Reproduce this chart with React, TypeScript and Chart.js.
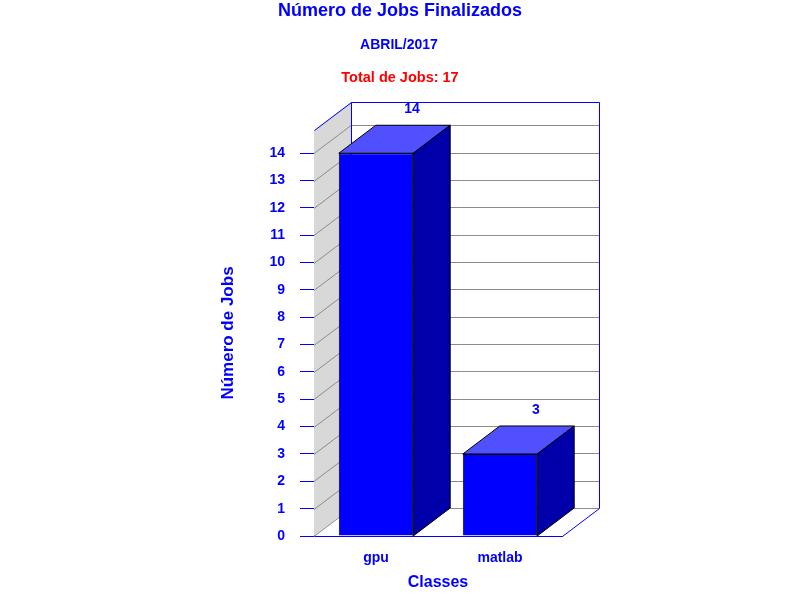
import { Chart, registerables } from 'chart.js';
import { useEffect, useRef } from 'react';

Chart.register(...registerables);

const classes = ['gpu', 'matlab'];
const jobs = [14, 3];
const titulo = 'Número de Jobs Finalizados';
const periodo = 'ABRIL/2017';
const totalTxt = 'Total de Jobs: 17';

const FONT = '"Liberation Sans", Arial, sans-serif';
const AZUL = '#0000ff';
const DX = 37;
const DY = -28;

// paredes, piso y grid 3D
const fundo3d = {
  id: 'fundo3d',
  beforeDatasetsDraw(chart: any) {
    const { ctx, chartArea: a, scales } = chart;
    const y = scales.y;
    ctx.save();
    ctx.lineWidth = 1;
    // parede de fundo
    ctx.fillStyle = '#ffffff';
    ctx.fillRect(a.left + DX, a.top + DY, a.right - a.left, a.bottom - a.top);
    // parede esquerda
    ctx.beginPath();
    ctx.moveTo(a.left, a.bottom);
    ctx.lineTo(a.left, a.top);
    ctx.lineTo(a.left + DX, a.top + DY);
    ctx.lineTo(a.left + DX, a.bottom + DY);
    ctx.closePath();
    ctx.fillStyle = '#d8d8d8';
    ctx.fill();
    // grid
    ctx.strokeStyle = '#8c8c8c';
    y.ticks.forEach((t: any) => {
      const py = Math.round(y.getPixelForValue(t.value)) + 0.5;
      ctx.beginPath();
      ctx.moveTo(a.left, py);
      ctx.lineTo(a.left + DX, py + DY);
      ctx.lineTo(a.right + DX, py + DY);
      ctx.stroke();
    });
    // molduras azuis
    ctx.strokeStyle = AZUL;
    ctx.beginPath();
    ctx.moveTo(a.left + 0.5, a.top + 0.5);
    ctx.lineTo(a.left + DX + 0.5, a.top + DY + 0.5);
    ctx.lineTo(a.right + DX + 0.5, a.top + DY + 0.5);
    ctx.lineTo(a.right + DX + 0.5, a.bottom + DY + 0.5);
    ctx.lineTo(a.right + 0.5, a.bottom + 0.5);
    ctx.moveTo(a.left + DX + 0.5, a.top + DY + 0.5);
    ctx.lineTo(a.left + DX + 0.5, a.bottom + DY + 0.5);
    ctx.stroke();
    ctx.restore();
  },
  afterDatasetsDraw(chart: any) {
    const { ctx, chartArea: a } = chart;
    const meta = chart.getDatasetMeta(0);
    ctx.save();
    ctx.lineWidth = 1;
    ctx.strokeStyle = '#000000';
    meta.data.forEach((bar: any, i: number) => {
      const x1 = bar.x - bar.width / 2;
      const x2 = bar.x + bar.width / 2;
      const yt = bar.y;
      const yb = a.bottom;
      // topo
      ctx.beginPath();
      ctx.moveTo(x1, yt);
      ctx.lineTo(x2, yt);
      ctx.lineTo(x2 + DX, yt + DY);
      ctx.lineTo(x1 + DX, yt + DY);
      ctx.closePath();
      ctx.fillStyle = '#5050ff';
      ctx.fill();
      ctx.stroke();
      // lateral
      ctx.beginPath();
      ctx.moveTo(x2, yt);
      ctx.lineTo(x2 + DX, yt + DY);
      ctx.lineTo(x2 + DX, yb + DY);
      ctx.lineTo(x2, yb);
      ctx.closePath();
      ctx.fillStyle = '#0000aa';
      ctx.fill();
      ctx.stroke();
      // valor
      ctx.fillStyle = AZUL;
      ctx.font = 'bold 14px ' + FONT;
      ctx.textAlign = 'center';
      ctx.textBaseline = 'middle';
      ctx.fillText(String(jobs[i]), bar.x + DX - 1, yt + DY - 16);
    });
    ctx.restore();
  },
};

const titulos = {
  id: 'titulos',
  afterDraw(chart: any) {
    const { ctx } = chart;
    ctx.save();
    ctx.textAlign = 'center';
    ctx.textBaseline = 'middle';
    ctx.fillStyle = AZUL;
    ctx.font = 'bold 18px ' + FONT;
    ctx.fillText(titulo, 400, 11);
    ctx.font = 'bold 14px ' + FONT;
    ctx.fillText(periodo, 399, 45);
    ctx.fillStyle = '#ff0000';
    ctx.font = 'bold 14.5px ' + FONT;
    ctx.fillText(totalTxt, 400, 78);
    ctx.restore();
  },
};

export default function App() {
  const canva = useRef<HTMLCanvasElement | null>(null);

  useEffect(() => {
    if (!canva.current) return;
    const grafico = new Chart(canva.current, {
      type: 'bar',
      data: {
        labels: classes,
        datasets: [
          {
            label: 'Jobs',
            data: jobs,
            backgroundColor: AZUL,
            borderColor: '#000000',
            borderWidth: 1,
            barPercentage: 0.6,
            categoryPercentage: 1,
          },
        ],
      },
      options: {
        animation: false,
        responsive: true,
        maintainAspectRatio: false,
        layout: { padding: { left: 210, right: 238, top: 130, bottom: 0 } },
        plugins: {
          legend: { display: false },
          tooltip: { enabled: false },
        },
        scales: {
          x: {
            afterFit: (s: any) => {
              s.height = 64;
            },
            grid: { display: false, drawTicks: false },
            border: { display: true, color: AZUL, width: 1 },
            ticks: {
              color: AZUL,
              padding: 14,
              font: { family: FONT, size: 14, weight: 'bold' },
            },
            title: {
              display: true,
              text: 'Classes',
              color: AZUL,
              padding: { top: 0, bottom: 8 },
              font: { family: FONT, size: 16, weight: 'bold' },
            },
          },
          y: {
            min: 0,
            max: 14.85,
            afterFit: (s: any) => {
              s.width = 104;
            },
            grid: {
              drawOnChartArea: false,
              drawTicks: true,
              tickLength: 14,
              color: AZUL,
            },
            border: { display: true, color: AZUL, width: 1 },
            ticks: {
              stepSize: 1,
              includeBounds: false,
              color: AZUL,
              padding: 15,
              font: { family: FONT, size: 14, weight: 'bold' },
            },
            title: {
              display: true,
              text: 'Número de Jobs',
              color: AZUL,
              padding: { top: 8, bottom: 0 },
              font: { family: FONT, size: 17, weight: 'bold' },
            },
          },
        },
      },
      plugins: [fundo3d, titulos],
    });
    return () => {
      grafico.destroy();
    };
  }, []);

  return (
    <div style={{ position: 'absolute', left: 0, top: 0, width: 800, height: 600, background: '#fff' }}>
      <canvas ref={canva} />
    </div>
  );
}
